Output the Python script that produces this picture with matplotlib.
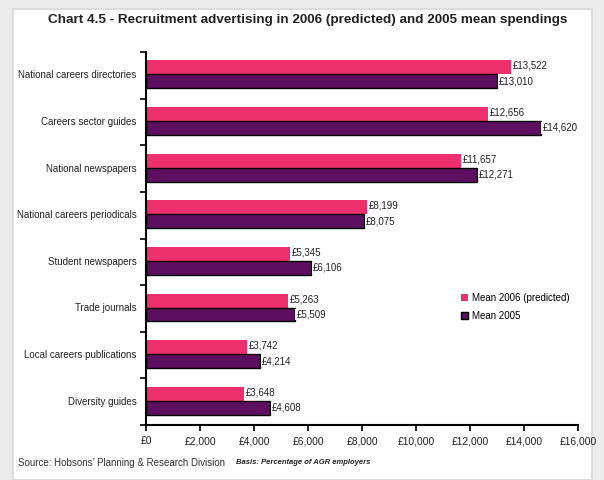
import matplotlib.pyplot as plt
import numpy as np
from matplotlib.patches import Rectangle

plt.rcParams['font.family'] = ['Liberation Sans', 'DejaVu Sans']

categories = ['National careers directories', 'Careers sector guides', 'National newspapers',
              'National careers periodicals', 'Student newspapers', 'Trade journals',
              'Local careers publications', 'Diversity guides']
mean_2006 = [13522, 12656, 11657, 8199, 5345, 5263, 3742, 3648]
mean_2005 = [13010, 14620, 12271, 8075, 6106, 5509, 4214, 4608]
xticks = [0, 2000, 4000, 6000, 8000, 10000, 12000, 14000, 16000]

PINK = '#ee2f6e'
PURPLE = '#5c0f5f'

fig = plt.figure(figsize=(6.04, 4.8), dpi=100)
fig.patch.set_facecolor('#ececec')
# white panel inside the grey frame
fig.patches.append(Rectangle((13 / 604, 0), 579 / 604, 1 - 9 / 480, transform=fig.transFigure,
                             facecolor='white', edgecolor='#dcdcdc', linewidth=1.5, zorder=-5))

ax = fig.add_axes([146 / 604, 1 - 425 / 480, 432 / 604, 373 / 480])
ax.set_facecolor('none')

n = len(categories)
y = np.arange(n)
h = 0.30
off = 0.02
ax.barh(y - h / 2 - off, mean_2006, height=h, color=PINK, label='Mean 2006 (predicted)')
ax.barh(y + h / 2 - off, mean_2005, height=h, color=PURPLE, edgecolor='black', linewidth=1,
        label='Mean 2005')

box = dict(facecolor='white', edgecolor='none', pad=0.6)
for i in range(n):
    ax.text(mean_2006[i] + 60, y[i] - h / 2 - off - 0.03, '£{:,}'.format(mean_2006[i]), fontsize=7,
            va='center', ha='left', bbox=box, color='#222222')
    ax.text(mean_2005[i] + 60, y[i] + h / 2 - off, '£{:,}'.format(mean_2005[i]), fontsize=7,
            va='center', ha='left', bbox=box, color='#222222')

ax.set_xlim(0, 16000)
ax.set_ylim(n - 0.5, -0.5)
ax.set_xticks(xticks)
ax.set_xticklabels(['£{:,}'.format(v) for v in xticks], fontsize=7.4, color='#222222')
ax.set_yticks(np.arange(n + 1) - 0.5)
ax.set_yticklabels([])
ax.tick_params(axis='both', direction='out', length=4, width=1.2, colors='black')
ax.tick_params(axis='x', labelcolor='#222222', pad=4)
for i, name in enumerate(categories):
    ax.text(-0.022, 1 - (i + 0.5) / n, name, transform=ax.transAxes, ha='right', va='center',
            fontsize=7, color='#222222')

for s in ['top', 'right']:
    ax.spines[s].set_visible(False)
for s in ['left', 'bottom']:
    ax.spines[s].set_linewidth(1.5)

ax.legend(loc='upper left', bbox_to_anchor=(0.71, 0.377), frameon=False, fontsize=7,
          handlelength=0.7, handleheight=0.7, handletextpad=0.4, labelspacing=0.8)

fig.text(0.509, 1 - 20 / 480, 'Chart 4.5 - Recruitment advertising in 2006 (predicted) and 2005 mean spendings',
         ha='center', va='center', fontsize=9.7, fontweight='bold', color='#222222')
fig.text(18 / 604, 1 - 463 / 480, 'Source: Hobsons\u2019 Planning & Research Division', ha='left',
         va='center', fontsize=7, color='#333333')
fig.text(236 / 604, 1 - 463 / 480, 'Basis: Percentage of AGR employers', ha='left', va='center',
         fontsize=5.5, fontweight='bold', fontstyle='italic', color='#222222')

fig.savefig('out.png', dpi=100)
